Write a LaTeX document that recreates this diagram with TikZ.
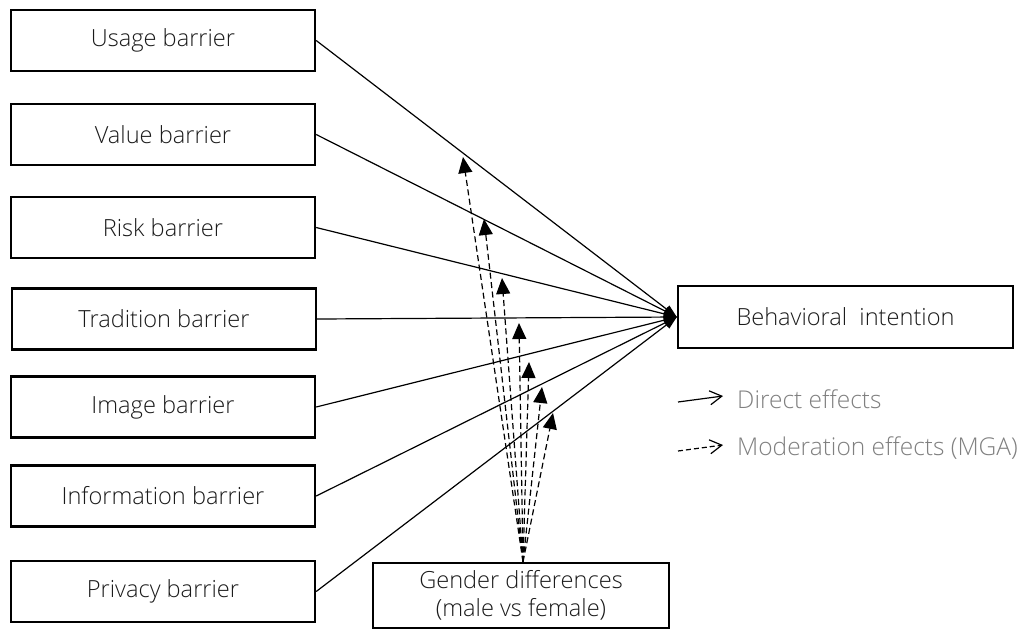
\documentclass[tikz,border=0pt]{standalone}
\usepackage{fontspec}
\setmainfont{Open Sans}[UprightFont=* Light]
\usetikzlibrary{arrows.meta}
\definecolor{txt}{HTML}{1A1A1A}
\definecolor{legtxt}{HTML}{808080}
\tikzset{
  barrierbox/.style={draw=black, line width=2.4pt, minimum width=304pt, minimum height=61pt,
    inner sep=0pt, text=txt, font=\fontsize{23.6}{28}\selectfont},
  direct/.style={line width=1.2pt, -{Triangle[length=13pt,width=9pt]}},
  moder/.style={line width=1.2pt, dash pattern=on 6pt off 3.5pt, -{Triangle[length=16pt,width=14pt]}},
  legtext/.style={anchor=west, inner sep=0pt, text=legtxt, font=\fontsize{24.5}{28}\selectfont},
  legarrow/.style={line width=1.2pt, -{Straight Barb[length=12pt,width=14pt,line width=1.2pt]}}
}
\begin{document}
\begin{tikzpicture}[x=1pt,y=-1pt]
\useasboundingbox (0,0) rectangle (1022,630);
\node[barrierbox] (usage) at (163,40.5) {Usage barrier};
\node[barrierbox] (value) at (163,134.5) {Value barrier};
\node[barrierbox] (risk) at (163,227.5) {Risk barrier};
\node[barrierbox] (trad) at (164,319) {Tradition barrier};
\node[barrierbox] (image) at (163,407) {Image barrier};
\node[barrierbox] (info) at (163,496) {Information barrier};
\node[barrierbox] (priv) at (163,591.5) {Privacy barrier};
\node[barrierbox, minimum width=335pt, minimum height=62pt] (bi) at (845.5,317) {Behavioral\ \ intention};
\node[barrierbox, minimum width=296pt, minimum height=65pt, align=center,
  font=\fontsize{23.6}{28}\selectfont] (gd) at (521,595.5) {Gender differences\\(male vs female)};

\foreach \n in {usage,value,risk,trad,image,info,priv}
  \draw[direct] (\n.east) -- (bi.west);

\coordinate (t1) at (463,157);
\coordinate (t2) at (484,219);
\coordinate (t3) at (502,278);
\coordinate (t4) at (519,323);
\coordinate (t5) at (529,362);
\coordinate (t6) at (542,387);
\coordinate (t7) at (553,413);
\foreach \t in {t1,t2,t3,t4,t5,t6,t7}
  \draw[moder] ([xshift=2pt]gd.north) -- (\t);

\node[legtext] (l1) at (737,399) {Direct effects};
\node[legtext] (l2) at (737,448) {Moderation effects (MGA)};
\coordinate (l1a) at (678,402);
\coordinate (l2a) at (678,451);
\draw[legarrow] (l1a) -- ([xshift=-14pt,yshift=3pt]l1.west);
\draw[legarrow, dash pattern=on 5pt off 3pt] (l2a) -- ([xshift=-14pt,yshift=3pt]l2.west);
\end{tikzpicture}
\end{document}
